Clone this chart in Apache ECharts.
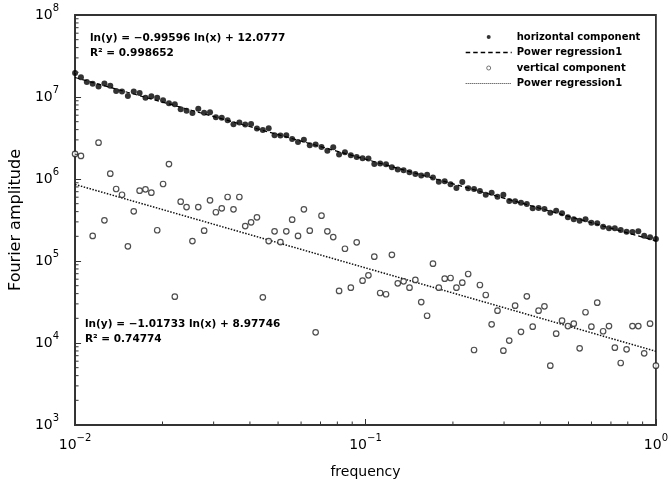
<!DOCTYPE html>
<html>
<head>
<meta charset="utf-8">
<script src="https://cdn.jsdelivr.net/npm/echarts@6/dist/echarts.min.js"></script>
<style>
html,body{margin:0;padding:0;background:#fff;}
#chart{width:671px;height:487px;}
</style>
</head>
<body>
<div id="chart"></div>
<script>
// ---- data ----
const freq = [
  0.010000, 0.010476, 0.010975, 0.011498, 0.012045, 0.012619, 0.013219, 0.013849, 0.014508, 0.015199,
  0.015923, 0.016681, 0.017475, 0.018307, 0.019179, 0.020092, 0.021049, 0.022051, 0.023101, 0.024201,
  0.025354, 0.026561, 0.027826, 0.029151, 0.030539, 0.031993, 0.033516, 0.035112, 0.036784, 0.038535,
  0.040370, 0.042292, 0.044306, 0.046416, 0.048626, 0.050941, 0.053367, 0.055908, 0.058570, 0.061359,
  0.064281, 0.067342, 0.070548, 0.073907, 0.077426, 0.081113, 0.084975, 0.089022, 0.093260, 0.097701,
  0.10235, 0.10723, 0.11233, 0.11768, 0.12328, 0.12915, 0.13530, 0.14175, 0.14850, 0.15557,
  0.16298, 0.17074, 0.17886, 0.18738, 0.19630, 0.20565, 0.21544, 0.22570, 0.23645, 0.24771,
  0.25950, 0.27186, 0.28480, 0.29836, 0.31257, 0.32745, 0.34305, 0.35938, 0.37649, 0.39442,
  0.41320, 0.43288, 0.45349, 0.47508, 0.49770, 0.52140, 0.54623, 0.57224, 0.59948, 0.62803,
  0.65793, 0.68926, 0.72208, 0.75646, 0.79248, 0.83022, 0.86975, 0.91116, 0.95455, 1.00000
];
const horizontal = [
  1.96e7, 1.74e7, 1.52e7, 1.45e7, 1.34e7, 1.46e7, 1.37e7, 1.18e7, 1.17e7, 1.03e7,
  1.17e7, 1.12e7, 9.80e6, 1.02e7, 9.80e6, 9.12e6, 8.38e6, 8.15e6, 7.08e6, 6.79e6,
  6.38e6, 7.18e6, 6.43e6, 6.51e6, 5.65e6, 5.58e6, 5.20e6, 4.66e6, 4.89e6, 4.62e6,
  4.69e6, 4.13e6, 3.96e6, 4.16e6, 3.42e6, 3.39e6, 3.42e6, 3.07e6, 2.83e6, 3.02e6,
  2.58e6, 2.63e6, 2.46e6, 2.21e6, 2.44e6, 1.99e6, 2.12e6, 1.95e6, 1.86e6, 1.79e6,
  1.78e6, 1.52e6, 1.55e6, 1.51e6, 1.39e6, 1.31e6, 1.28e6, 1.21e6, 1.15e6, 1.10e6,
  1.13e6, 1.04e6, 9.27e5, 9.38e5, 8.62e5, 7.77e5, 9.19e5, 7.70e5, 7.55e5, 7.14e5,
  6.43e5, 6.81e5, 6.08e5, 6.43e5, 5.39e5, 5.35e5, 5.14e5, 4.96e5, 4.39e5, 4.43e5,
  4.31e5, 3.88e5, 4.11e5, 3.82e5, 3.41e5, 3.22e5, 3.10e5, 3.22e5, 2.93e5, 2.88e5,
  2.62e5, 2.51e5, 2.51e5, 2.39e5, 2.28e5, 2.26e5, 2.30e5, 2.03e5, 1.95e5, 1.86e5
];
const vertical = [
  2.02e6, 1.91e6, null,   2.02e5, 2.77e6, 3.13e5, 1.16e6, 7.55e5, 6.43e5, 1.51e5,
  4.04e5, 7.20e5, 7.49e5, 6.81e5, 2.37e5, 8.69e5, 1.52e6, 3.67e4, 5.29e5, 4.55e5,
  1.75e5, 4.55e5, 2.34e5, 5.50e5, 3.93e5, 4.39e5, 6.03e5, 4.27e5, 6.03e5, 2.67e5,
  2.96e5, 3.41e5, 3.61e4, 1.75e5, 2.30e5, 1.70e5, 2.30e5, 3.19e5, 2.02e5, 4.27e5,
  2.34e5, 1.35e4, 3.57e5, 2.30e5, 1.96e5, 4.31e4, 1.41e5, 4.73e4, 1.69e5, 5.75e4,
  6.69e4, 1.13e5, 4.07e4, 3.93e4, 1.19e5, 5.35e4, 5.65e4, 4.73e4, 5.87e4, 3.16e4,
  2.15e4, 9.27e4, 4.73e4, 6.08e4, 6.20e4, 4.73e4, 5.44e4, 6.94e4, 8.21e3, 5.10e4,
  3.85e4, 1.69e4, 2.48e4, 8.06e3, 1.07e4, 2.85e4, 1.37e4, 3.71e4, 1.58e4, 2.48e4,
  2.80e4, 5.29e3, 1.30e4, 1.87e4, 1.61e4, 1.72e4, 8.62e3, 2.37e4, 1.58e4, 3.10e4,
  1.39e4, 1.61e4, 8.76e3, 5.70e3, 8.38e3, 1.61e4, 1.61e4, 7.49e3, 1.72e4, 5.29e3
];
// power-regression end points (from the equations shown on the chart)
const fitX = [0.01, 1];
const fitHorizontal = [1.727e7, 1.759e5];
const fitVertical = [8.58e5, 7.92e3];

const xMinorTicks = [0.02, 0.03, 0.04, 0.05, 0.06, 0.07, 0.08, 0.09,
                     0.2, 0.3, 0.4, 0.5, 0.6, 0.7, 0.8, 0.9];
const yMinorTicks = [2e3, 3e3, 4e3, 5e3, 6e3, 7e3, 8e3, 9e3,
                     2e4, 3e4, 4e4, 5e4, 6e4, 7e4, 8e4, 9e4,
                     2e5, 3e5, 4e5, 5e5, 6e5, 7e5, 8e5, 9e5,
                     2e6, 3e6, 4e6, 5e6, 6e6, 7e6, 8e6, 9e6,
                     2e7, 3e7, 4e7, 5e7, 6e7, 7e7, 8e7, 9e7];

const legendLabels = {
  horizontal: 'horizontal component',
  fitH: 'Power regression1',
  vertical: 'vertical component',
  fitV: 'Power regression1'
};
const eqHorizontal = ['ln(y) = \u22120.99596 ln(x) + 12.0777', 'R\u00b2 = 0.998652'];
const eqVertical = ['ln(y) = \u22121.01733 ln(x) + 8.97746', 'R\u00b2 = 0.74774'];
const xTitle = 'frequency';
const yTitle = 'Fourier amplitude';

// ---- chart ----
const FONT = '"DejaVu Sans", Verdana, sans-serif';
const AX = '#333';
const chart = echarts.init(document.getElementById('chart'), null, {renderer: 'canvas'});

function pairs(xs, ys) {
  const out = [];
  for (let i = 0; i < xs.length; i++) if (ys[i] != null) out.push([xs[i], ys[i]]);
  return out;
}
function powLabel(v) {
  const e = Math.round(Math.log10(v));
  return '{b|10}{s|' + (e < 0 ? '\u2212' + (-e) : String(e)) + '}';
}
const richLab = {
  b: {fontSize: 14, lineHeight: 14, fontFamily: FONT, color: '#000'},
  s: {fontSize: 10, lineHeight: 10, fontFamily: FONT, color: '#000', padding: [0, 0, 14, 0]}
};

const option = {
  animation: false,
  backgroundColor: '#fff',
  textStyle: {fontFamily: FONT},
  grid: {left: 71, right: 11, top: 15, bottom: 62, show: true, borderColor: AX, borderWidth: 1.8, backgroundColor: 'transparent'},
  xAxis: {
    type: 'log', logBase: 10, min: 0.01, max: 1, interval: 1,
    name: xTitle, nameLocation: 'middle', nameGap: 40,
    nameTextStyle: {fontSize: 14, color: '#000', fontFamily: FONT},
    axisLine: {show: true, lineStyle: {color: AX, width: 1.8}},
    axisTick: {show: true, inside: true, length: 6, lineStyle: {color: AX, width: 1}},
    axisLabel: {formatter: powLabel, rich: richLab, margin: 13},
    splitLine: {show: false}
  },
  yAxis: {
    type: 'log', logBase: 10, min: 1e3, max: 1e8, interval: 1,
    name: yTitle, nameLocation: 'middle', nameGap: 44,
    nameTextStyle: {fontSize: 16, color: '#000', fontFamily: FONT},
    axisLine: {show: true, lineStyle: {color: AX, width: 1.8}},
    axisTick: {show: true, inside: true, length: 6, lineStyle: {color: AX, width: 1}},
    axisLabel: {formatter: powLabel, rich: richLab, margin: 16},
    splitLine: {show: false}
  },
  legend: {
    orient: 'vertical', left: 465, top: 31, padding: 0, itemGap: 3.5,
    itemWidth: 46, itemHeight: 4, selectedMode: false,
    formatter: n => legendLabels[n],
    textStyle: {fontFamily: FONT, fontSize: 10, fontWeight: 'bold', color: '#000', lineHeight: 12},
    data: [
      {name: 'horizontal', itemStyle: {color: '#000', borderWidth: 0}},
      {name: 'fitH', itemStyle: {color: 'rgba(0,0,0,0)', borderWidth: 0},
       lineStyle: {color: '#000', width: 1.4, type: [4.5, 3]}},
      {name: 'vertical', itemStyle: {color: '#fff', borderColor: '#555', borderWidth: 1}},
      {name: 'fitV', itemStyle: {color: 'rgba(0,0,0,0)', borderWidth: 0},
       lineStyle: {color: '#333', width: 1, type: [1, 1]}}
    ]
  },
  series: [
    {
      name: 'horizontal', type: 'scatter', symbol: 'circle', symbolSize: 6,
      itemStyle: {color: '#000'}, data: pairs(freq, horizontal), z: 3
    },
    {
      name: 'fitH', type: 'line', symbol: 'none', data: pairs(fitX, fitHorizontal), z: 3,
      lineStyle: {color: '#000', width: 1.2, type: [4.5, 3]}, itemStyle: {color: '#000'}
    },
    {
      name: 'vertical', type: 'scatter', symbol: 'circle', symbolSize: 5.5,
      itemStyle: {color: '#fff', borderColor: '#222', borderWidth: 1.2}, data: pairs(freq, vertical), z: 3
    },
    {
      name: 'fitV', type: 'line', symbol: 'none', data: pairs(fitX, fitVertical), z: 3,
      lineStyle: {color: '#111', width: 1.5, type: [1.5, 1.5]}, itemStyle: {color: '#111'}
    },
    {
      name: 'xMinor', type: 'custom', silent: true, z: 4,
      data: xMinorTicks.map(v => [v, 1e3]),
      renderItem: (params, api) => {
        const p = api.coord([api.value(0), api.value(1)]);
        return {type: 'line', shape: {x1: p[0], y1: p[1], x2: p[0], y2: p[1] - 3.5}, style: {stroke: AX, lineWidth: 1}};
      }
    },
    {
      name: 'yMinor', type: 'custom', silent: true, z: 4,
      data: yMinorTicks.map(v => [0.01, v]),
      renderItem: (params, api) => {
        const p = api.coord([api.value(0), api.value(1)]);
        return {type: 'line', shape: {x1: p[0], y1: p[1], x2: p[0] + 3.5, y2: p[1]}, style: {stroke: AX, lineWidth: 1}};
      }
    }
  ],
  graphic: [
    {type: 'text', left: 90, top: 33, style: {text: eqHorizontal[0], font: 'bold 10.5px ' + FONT, fill: '#000'}},
    {type: 'text', left: 90, top: 48, style: {text: eqHorizontal[1], font: 'bold 10.5px ' + FONT, fill: '#000'}},
    {type: 'text', left: 85, top: 319, style: {text: eqVertical[0], font: 'bold 10.5px ' + FONT, fill: '#000'}},
    {type: 'text', left: 85, top: 334, style: {text: eqVertical[1], font: 'bold 10.5px ' + FONT, fill: '#000'}}
  ]
};
chart.setOption(option);
</script>
</body>
</html>
